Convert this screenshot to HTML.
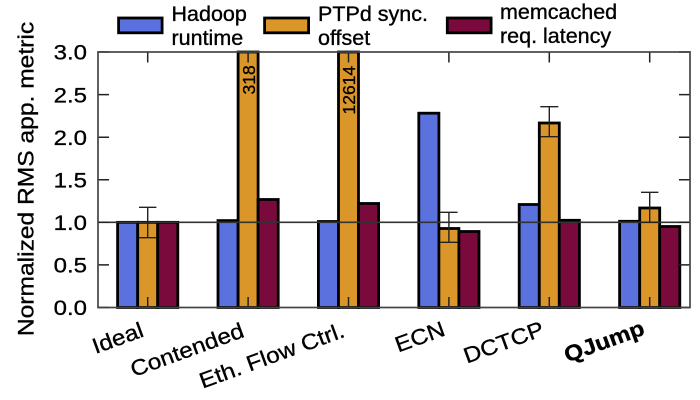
<!DOCTYPE html>
<html><head><meta charset="utf-8"><style>
html,body{margin:0;padding:0;background:#fff;}
svg{display:block;}
text{font-family:"Liberation Sans",Arial,Helvetica,sans-serif;fill:#000;stroke:#000;stroke-width:0.35px;}
</style></head><body>
<svg width="700" height="400" viewBox="0 0 700 400" xmlns="http://www.w3.org/2000/svg">
<rect x="0" y="0" width="700" height="400" fill="#fff"/>
<g stroke="#000" stroke-width="2.8">
<!-- Ideal -->
<rect x="117.6" y="222.33" width="20.1" height="85.17" fill="#5b72de"/>
<rect x="137.7" y="222.33" width="20" height="85.17" fill="#db9629"/>
<rect x="157.7" y="222.33" width="20.1" height="85.17" fill="#7a0a3c"/>
<!-- Contended -->
<rect x="218" y="220.6" width="20.1" height="86.9" fill="#5b72de"/>
<rect x="238.1" y="52" width="20" height="255.5" fill="#db9629"/>
<rect x="258.1" y="199.5" width="20.1" height="108" fill="#7a0a3c"/>
<!-- Eth -->
<rect x="318.4" y="221.5" width="20.1" height="86" fill="#5b72de"/>
<rect x="338.5" y="52" width="20" height="255.5" fill="#db9629"/>
<rect x="358.5" y="203.5" width="20.1" height="104" fill="#7a0a3c"/>
<!-- ECN -->
<rect x="418.8" y="113.2" width="20.1" height="194.3" fill="#5b72de"/>
<rect x="438.9" y="228.5" width="20" height="79" fill="#db9629"/>
<rect x="458.9" y="231.5" width="20.1" height="76" fill="#7a0a3c"/>
<!-- DCTCP -->
<rect x="519.2" y="204.5" width="20.1" height="103" fill="#5b72de"/>
<rect x="539.3" y="123" width="20" height="184.5" fill="#db9629"/>
<rect x="559.3" y="220.3" width="20.1" height="87.2" fill="#7a0a3c"/>
<!-- QJump -->
<rect x="619.6" y="221.3" width="20.1" height="86.2" fill="#5b72de"/>
<rect x="639.7" y="208" width="20" height="99.5" fill="#db9629"/>
<rect x="659.7" y="226.5" width="20.1" height="81" fill="#7a0a3c"/>
</g>
<!-- 1.0 reference line -->
<line x1="98" y1="222.33" x2="690" y2="222.33" stroke="#333" stroke-width="1.6"/>
<!-- error bars -->
<g stroke="#222" stroke-width="1.4" fill="none">
<path d="M147.7 207.3V237.7M139 207.3H156.4M139 237.7H156.4"/>
<path d="M448.9 212.3V242.3M440.2 212.3H457.6M440.2 242.3H457.6"/>
<path d="M549.3 106.7V136.7M540.3 106.7H558.3M540.3 136.7H558.3"/>
<path d="M649.7 192.3V222.3M641 192.3H658.4M641 222.3H658.4"/>
</g>
<!-- ticks -->
<g stroke="#222" stroke-width="1.5">
<path d="M98 52H109M98 94.6H109M98 137.2H109M98 179.7H109M98 222.3H109M98 264.9H109M98 307.5H109"/>
<path d="M690 52H679M690 94.6H679M690 137.2H679M690 179.7H679M690 222.3H679M690 264.9H679M690 307.5H679"/>
<path d="M147.7 52V62.5M248.1 52V62.5M348.5 52V62.5M448.9 52V62.5M549.3 52V62.5M649.7 52V62.5"/>
<path d="M147.7 307.5V297M248.1 307.5V297M348.5 307.5V297M448.9 307.5V297M549.3 307.5V297M649.7 307.5V297"/>
</g>
<!-- frame -->
<rect x="98" y="52" width="592" height="255.5" fill="none" stroke="#444" stroke-width="1.7"/>
<!-- in-bar labels -->
<text transform="translate(255,94.5) rotate(-90)" font-size="17.5" style="stroke-width:0.3px">318</text>
<text transform="translate(355,114.5) rotate(-90)" font-size="17.5" style="stroke-width:0.3px">12614</text>
<!-- y tick labels -->
<g font-size="24" text-anchor="end">
<text transform="translate(87,59.7) scale(1,0.9)">3.0</text>
<text transform="translate(87,102.3) scale(1,0.9)">2.5</text>
<text transform="translate(87,144.9) scale(1,0.9)">2.0</text>
<text transform="translate(87,187.4) scale(1,0.9)">1.5</text>
<text transform="translate(87,230) scale(1,0.9)">1.0</text>
<text transform="translate(87,272.6) scale(1,0.9)">0.5</text>
<text transform="translate(87,315.2) scale(1,0.9)">0.0</text>
</g>
<!-- y title -->
<text transform="translate(33.5,179) rotate(-90) scale(1,0.9)" font-size="24.6" text-anchor="middle">Normalized RMS app. metric</text>
<!-- x labels -->
<g font-size="24.3" text-anchor="end">
<text transform="translate(145,336) rotate(-20) scale(1,0.9)">Ideal</text>
<text transform="translate(245.4,336.5) rotate(-20) scale(1,0.9)">Contended</text>
<text transform="translate(346,336.5) rotate(-20) scale(1,0.9)">Eth. Flow Ctrl.</text>
<text transform="translate(446.5,335) rotate(-20) scale(1,0.9)">ECN</text>
<text transform="translate(545.5,335) rotate(-20) scale(1,0.9)">DCTCP</text>
<text transform="translate(646,334) rotate(-20) scale(1,0.9)" font-weight="bold">QJump</text>
</g>
<!-- legend -->
<g stroke="#000" stroke-width="2.8">
<rect x="118.6" y="18" width="43.5" height="14.8" fill="#5b72de"/>
<rect x="264.6" y="18" width="44" height="14.8" fill="#db9629"/>
<rect x="447.3" y="18" width="43.8" height="14.8" fill="#7a0a3c"/>
</g>
<g font-size="21.5">
<text x="171.5" y="21">Hadoop</text>
<text x="171.5" y="45">runtime</text>
<text x="318" y="21">PTPd sync.</text>
<text x="318" y="45">offset</text>
<text x="500" y="19">memcached</text>
<text x="500" y="43">req. latency</text>
</g>
</svg>
</body></html>
